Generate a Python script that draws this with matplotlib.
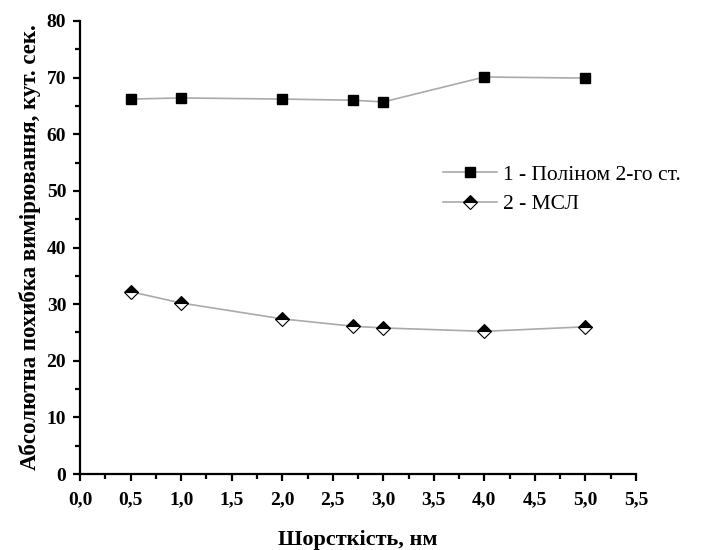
import numpy as np
from matplotlib import pyplot as plt
from matplotlib.ticker import MultipleLocator, FuncFormatter

plt.rcParams["font.family"] = ["Liberation Serif", "DejaVu Serif"]

x = [0.5, 1.0, 2.0, 2.7, 3.0, 4.0, 5.0]
poly_y = [66.2, 66.4, 66.2, 66.0, 65.7, 70.1, 69.9]
msl_y = [32.2, 30.2, 27.4, 26.1, 25.8, 25.2, 26.0]

fig = plt.figure(figsize=(7.09, 5.5), dpi=100)
ax = fig.add_axes([0.113, 0.138, 0.784, 0.824])

ax.plot(x, poly_y, color="#aaaaaa", lw=1.2, marker="s", ms=7,
        mfc="black", mec="black", label="1 - Поліном 2-го ст.")
ax.plot(x, msl_y, color="#aaaaaa", lw=1.2, marker="D", ms=7,
        fillstyle="top", mfc="black", mfcalt="white", mec="black", mew=0.8,
        label="2 - МСЛ")

ax.set_xlim(0, 5.5)
ax.set_ylim(0, 80)
ax.xaxis.set_major_locator(MultipleLocator(0.5))
ax.xaxis.set_minor_locator(MultipleLocator(0.25))
ax.yaxis.set_major_locator(MultipleLocator(10))
ax.yaxis.set_minor_locator(MultipleLocator(5))
ax.xaxis.set_major_formatter(FuncFormatter(lambda v, p: f"{v:.1f}".replace(".", ",")))

for s in ["top", "right"]:
    ax.spines[s].set_visible(False)
for s in ["left", "bottom"]:
    ax.spines[s].set_linewidth(1.6)

ax.tick_params(which="major", direction="out", length=5, width=1.6, labelsize=14)
ax.tick_params(which="minor", direction="out", length=3.5, width=1.6)
ax.tick_params(axis="x", which="major", pad=7)
ax.tick_params(axis="y", which="major", pad=5)
for lab in ax.get_xticklabels() + ax.get_yticklabels():
    lab.set_fontweight("bold")

ax.set_xlabel("Шорсткість, нм", fontsize=16, fontweight="bold", labelpad=16)
ax.set_ylabel("Абсолютна похибка вимірювання, кут. сек.", fontsize=16.5,
              fontweight="bold", labelpad=4)

ax.legend(loc="upper left", bbox_to_anchor=(0.618, 0.726), frameon=False,
          fontsize=15.5, handlelength=2.5, labelspacing=0.45, handletextpad=0.3)

fig.savefig("out.png", dpi=100)
